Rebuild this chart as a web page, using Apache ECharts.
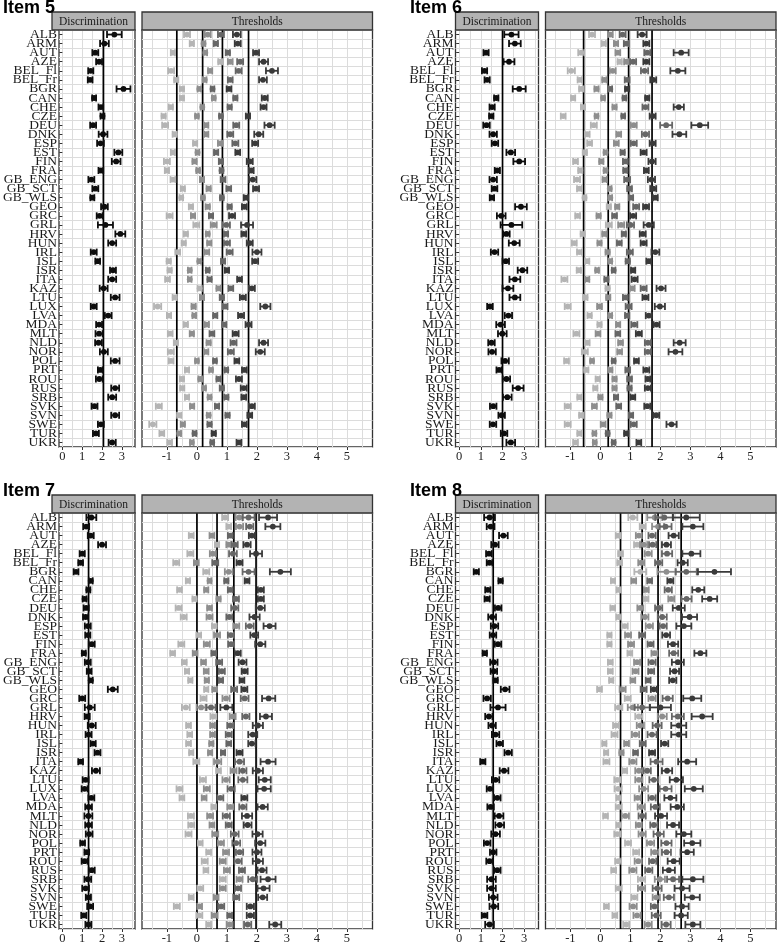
<!DOCTYPE html>
<html>
<head>
<meta charset="utf-8">
<script src="https://cdn.jsdelivr.net/npm/echarts@6/dist/echarts.min.js"></script>
<style>
  html, body { margin: 0; padding: 0; background: #fff; }
  #chart { width: 777px; height: 945px; }
</style>
</head>
<body>
<div id="chart"></div>
<script>
const countries = ['ALB','ARM','AUT','AZE','BEL_Fl','BEL_Fr','BGR','CAN','CHE','CZE','DEU','DNK','ESP','EST','FIN','FRA',
  'GB_ENG','GB_SCT','GB_WLS','GEO','GRC','GRL','HRV','HUN','IRL','ISL','ISR','ITA','KAZ','LTU','LUX','LVA','MDA','MLT',
  'NLD','NOR','POL','PRT','ROU','RUS','SRB','SVK','SVN','SWE','TUR','UKR'];

const discTicks = [0, 1, 2, 3];
const thrTicks = [-1, 0, 1, 2, 3, 4, 5];
const discMinor = [0, 0.5, 1, 1.5, 2, 2.5, 3, 3.5];
const thrMinor = [-1.5, -1, -0.5, 0, 0.5, 1, 1.5, 2, 2.5, 3, 3.5, 4, 4.5, 5, 5.5];

// ---- Item 5
const item5Disc = [2.62,2.12,1.66,1.85,1.43,1.40,3.08,1.60,1.94,2.02,1.55,2.05,1.92,2.82,2.71,1.94,1.46,1.66,1.51,2.12,1.88,2.17,2.92,
  2.51,1.58,1.78,2.55,2.51,2.08,2.66,1.58,2.31,1.85,1.85,1.82,2.09,2.66,1.91,1.86,2.66,2.51,1.62,2.66,1.94,1.69,2.51];
const item5DiscErr = [0.37,0.22,0.15,0.15,0.13,0.12,0.35,0.10,0.12,0.10,0.15,0.22,0.17,0.20,0.22,0.12,0.15,0.15,0.10,0.17,0.15,0.38,0.25,
  0.20,0.15,0.12,0.15,0.20,0.20,0.22,0.15,0.17,0.15,0.18,0.17,0.20,0.22,0.12,0.17,0.20,0.20,0.15,0.20,0.15,0.15,0.18];
const item5Thr = [[-0.33,0.36,0.80,1.33],[-0.17,0.22,0.63,1.36],[-0.80,0.28,1.03,1.97],[0.78,1.11,1.44,2.22],[-0.86,0.44,1.39,2.50],
  [-0.69,0.26,1.11,2.20],[-0.50,0.08,0.52,1.07],[-0.50,0.56,1.28,2.26],[-0.87,0.18,1.09,2.22],[-1.11,0.00,0.80,1.70],
  [-1.06,0.31,1.31,2.42],[-0.74,0.31,1.11,2.06],[-0.06,0.78,1.28,1.94],[-0.80,0.02,0.64,1.36],[-1.00,-0.08,0.80,1.76],
  [-1.00,0.04,0.82,1.81],[-0.80,0.17,0.87,1.86],[-0.47,0.39,1.06,1.97],[-0.52,0.20,0.83,1.63],[-0.20,0.36,1.09,1.58],
  [-0.91,-0.13,0.47,1.17],[-0.02,0.56,0.98,1.67],[-0.37,0.36,0.97,1.56],[-0.44,0.41,1.00,1.76],[-0.64,0.33,1.09,2.00],
  [-0.94,0.08,0.87,1.94],[-0.91,-0.24,0.36,1.00],[-0.98,-0.24,0.42,1.42],[0.09,0.72,1.13,1.83],[-0.74,0.17,0.83,1.53],
  [-1.31,-0.11,0.94,2.28],[-0.93,-0.09,0.61,1.47],[-0.37,0.33,0.91,1.72],[-0.89,-0.17,0.50,1.29],[-0.70,0.39,1.22,2.22],
  [-0.87,0.31,1.13,2.11],[-0.86,0.00,0.60,1.33],[-0.33,0.47,0.98,1.58],[-0.50,0.11,0.72,1.40],[-0.49,0.24,0.83,1.56],
  [-0.33,0.42,0.98,1.56],[-1.27,-0.16,0.67,1.83],[-0.59,0.39,1.02,1.76],[-1.47,-0.47,0.42,1.58],[-1.17,-0.59,-0.08,0.56],
  [-0.91,-0.17,0.51,1.40]];
const item5ThrErr = [[.10,.10,.10,.13],[.07,.06,.07,.10],[.07,.06,.07,.10],[.07,.08,.10,.15],[.10,.07,.10,.20],
  [.07,.06,.08,.13],[.07,.06,.06,.08],[.07,.06,.07,.10],[.07,.06,.07,.10],[.07,.06,.06,.07],
  [.10,.07,.10,.17],[.07,.07,.10,.15],[.07,.08,.10,.10],[.07,.06,.07,.08],[.10,.07,.07,.10],
  [.07,.06,.06,.08],[.08,.07,.08,.12],[.07,.07,.08,.10],[.06,.06,.06,.07],[.07,.07,.07,.08],
  [.10,.07,.07,.10],[.10,.10,.12,.20],[.07,.06,.07,.08],[.07,.07,.10,.10],[.08,.08,.10,.15],
  [.07,.06,.07,.10],[.07,.06,.06,.07],[.08,.06,.07,.08],[.07,.07,.08,.10],[.07,.07,.07,.10],
  [.12,.07,.08,.17],[.07,.06,.07,.10],[.07,.07,.07,.10],[.08,.07,.08,.10],[.07,.07,.10,.15],
  [.10,.07,.10,.15],[.08,.06,.06,.08],[.07,.06,.06,.08],[.07,.06,.07,.10],[.07,.06,.07,.10],
  [.07,.06,.07,.08],[.10,.07,.07,.10],[.07,.06,.07,.08],[.12,.07,.07,.08],[.08,.06,.06,.07],
  [.08,.06,.06,.08]];
const item5DiscMean = 2.07;
const item5ThrMean = [-0.67, 0.19, 0.85, 1.72];

// ---- Item 6
const item6Disc = [2.41,2.57,1.24,2.30,1.17,1.29,2.77,1.71,1.52,1.48,1.26,1.57,1.65,2.38,2.77,1.76,1.57,1.63,1.51,2.85,1.94,2.41,2.18,
  2.54,1.63,2.15,2.92,2.57,2.25,2.57,1.42,2.27,1.91,1.99,1.49,1.52,2.12,1.84,2.18,2.72,2.22,1.57,1.96,1.56,2.07,2.38];
const item6DiscErr = [0.33,0.27,0.12,0.25,0.12,0.12,0.30,0.10,0.12,0.10,0.15,0.17,0.15,0.20,0.27,0.12,0.17,0.13,0.10,0.27,0.20,0.50,0.15,
  0.25,0.17,0.15,0.22,0.25,0.25,0.25,0.13,0.17,0.20,0.20,0.15,0.17,0.17,0.12,0.17,0.25,0.20,0.15,0.15,0.15,0.15,0.20];
const item6Thr = [[-0.28,0.33,0.74,1.39],[0.11,0.52,0.86,1.53],[-0.64,0.58,1.56,2.69],[0.64,0.87,1.09,1.53],[-0.97,0.41,1.47,2.58],
  [-0.69,0.13,0.89,1.76],[-0.64,-0.13,0.33,0.89],[-0.91,0.09,0.80,1.56],[-0.58,0.47,1.50,2.61],[-1.24,-0.13,0.76,1.74],
  [-0.22,1.11,2.19,3.31],[-0.44,0.61,1.50,2.63],[-0.36,0.53,1.11,1.74],[-0.52,0.17,0.74,1.44],[-0.83,0.03,0.83,1.72],
  [-0.67,0.17,0.83,1.53],[-0.78,0.14,0.89,1.70],[-0.70,0.31,0.97,1.76],[-0.53,0.33,1.02,1.83],[0.28,0.56,1.19,1.52],
  [-0.76,-0.06,0.47,1.09],[0.28,0.69,1.00,1.61],[-0.59,0.13,0.78,1.41],[-0.87,-0.03,0.63,1.44],[-0.70,0.24,0.98,1.83],
  [-0.44,0.33,0.91,1.61],[-0.72,-0.11,0.44,1.09],[-1.20,-0.44,0.20,1.14],[0.24,1.06,1.44,2.02],[-0.50,0.26,0.83,1.50],
  [-1.09,-0.03,0.94,1.98],[-0.36,0.33,0.89,1.61],[-0.03,0.59,1.13,1.87],[-0.80,-0.08,0.58,1.28],[-0.44,0.67,1.58,2.64],
  [-0.52,0.64,1.58,2.50],[-1.13,-0.28,0.44,1.20],[-0.47,0.33,0.91,1.53],[-0.09,0.47,0.97,1.58],[-0.17,0.47,0.97,1.58],
  [-0.70,0.00,0.52,1.08],[-1.09,-0.20,0.61,1.56],[-0.64,0.30,1.02,1.86],[-1.09,0.09,1.11,2.37],[-0.70,-0.20,0.24,0.86],
  [-0.83,-0.19,0.44,1.28]];
const item6ThrErr = [[.10,.08,.10,.15],[.07,.07,.08,.10],[.10,.08,.10,.25],[.07,.08,.10,.10],[.12,.10,.12,.25],
  [.07,.07,.08,.10],[.07,.07,.06,.07],[.07,.06,.06,.07],[.07,.07,.10,.17],[.08,.06,.06,.10],
  [.10,.10,.20,.28],[.08,.08,.12,.23],[.08,.08,.10,.10],[.07,.06,.07,.10],[.08,.07,.08,.12],
  [.07,.06,.07,.08],[.10,.07,.10,.12],[.08,.06,.08,.10],[.06,.06,.07,.08],[.07,.07,.10,.10],
  [.08,.07,.08,.10],[.10,.10,.12,.17],[.07,.07,.07,.10],[.08,.07,.08,.10],[.08,.07,.10,.13],
  [.07,.06,.07,.08],[.07,.06,.06,.07],[.10,.07,.07,.10],[.07,.08,.10,.15],[.07,.07,.08,.10],
  [.10,.08,.10,.17],[.07,.06,.07,.10],[.07,.07,.10,.10],[.10,.08,.08,.10],[.08,.08,.10,.20],
  [.10,.08,.10,.23],[.08,.06,.06,.08],[.07,.07,.08,.10],[.07,.07,.08,.08],[.07,.07,.07,.10],
  [.07,.07,.07,.08],[.10,.08,.08,.10],[.07,.07,.07,.10],[.10,.08,.10,.17],[.07,.06,.06,.07],
  [.08,.06,.06,.08]];
const item6DiscMean = 2.0;
const item6ThrMean = [-0.56, 0.26, 0.94, 1.72];

// ---- Item 7
const item7Disc = [1.46,1.20,1.43,2.00,1.00,0.92,0.69,1.43,1.31,1.12,1.20,1.17,1.28,1.28,1.48,1.08,1.28,1.35,1.43,2.54,1.00,1.38,1.25,
  1.48,1.32,1.55,1.77,0.92,1.69,1.17,1.12,1.46,1.32,1.31,1.32,1.35,1.02,1.23,1.12,1.48,1.28,1.17,1.31,1.40,1.08,1.31];
const item7DiscErr = [0.25,0.15,0.15,0.20,0.13,0.12,0.12,0.10,0.10,0.10,0.13,0.13,0.15,0.13,0.15,0.10,0.15,0.12,0.10,0.25,0.15,0.25,0.13,
  0.20,0.15,0.13,0.15,0.12,0.20,0.15,0.15,0.15,0.17,0.20,0.17,0.17,0.12,0.12,0.15,0.15,0.17,0.17,0.13,0.15,0.13,0.15];
const item7Thr = [[0.94,1.41,1.72,2.37],[1.06,1.42,1.76,2.53],[-0.19,0.50,1.11,1.83],[0.67,1.06,1.26,1.67],[-0.22,0.53,1.20,1.97],
  [-0.69,-0.02,0.61,1.42],[0.31,1.06,1.72,2.78],[-0.30,0.42,0.98,1.67],[-0.58,0.31,1.11,2.13],[-0.08,0.72,1.30,2.13],
  [-0.61,0.42,1.26,2.11],[-0.44,0.42,1.08,1.92],[0.58,1.31,1.76,2.42],[0.06,0.67,1.13,1.91],[-0.52,0.33,1.14,2.11],
  [-0.81,-0.06,0.56,1.36],[-0.42,0.22,0.74,1.52],[-0.33,0.31,0.83,1.59],[-0.22,0.33,0.80,1.50],[0.31,0.59,1.24,1.58],
  [0.22,0.97,1.59,2.39],[-0.37,0.14,0.47,0.98],[0.55,1.19,1.63,2.30],[-0.28,0.52,1.11,2.03],[-0.24,0.52,1.06,1.86],
  [-0.28,0.48,1.06,1.83],[-0.19,0.44,0.87,1.42],[-0.02,0.69,1.42,2.37],[0.72,1.22,1.53,2.03],[0.20,0.97,1.53,2.26],
  [-0.58,0.33,1.14,2.24],[-0.50,0.24,0.78,1.58],[0.56,1.11,1.53,2.19],[-0.20,0.44,0.98,1.67],[-0.19,0.50,1.06,1.69],
  [-0.28,0.61,1.26,2.02],[0.11,0.80,1.31,2.11],[0.39,0.97,1.42,2.00],[0.26,0.86,1.37,2.03],[0.30,1.00,1.50,2.17],
  [0.86,1.42,1.86,2.37],[0.11,0.86,1.37,2.22],[-0.19,0.64,1.31,2.19],[-0.67,0.09,0.81,1.78],[0.08,0.59,1.09,1.78],
  [0.39,1.09,1.69,2.61]];
const item7ThrErr = [[.10,.12,.20,.30],[.08,.12,.12,.25],[.08,.08,.08,.10],[.07,.08,.10,.12],[.10,.10,.13,.20],
  [.10,.08,.10,.10],[.10,.13,.20,.35],[.07,.06,.07,.08],[.08,.07,.08,.10],[.07,.07,.10,.10],
  [.10,.08,.12,.15],[.10,.10,.10,.17],[.08,.10,.13,.20],[.08,.10,.10,.13],[.10,.10,.10,.17],
  [.08,.08,.08,.10],[.08,.08,.10,.13],[.07,.08,.10,.10],[.07,.07,.07,.08],[.07,.08,.10,.10],
  [.10,.12,.13,.22],[.13,.15,.15,.20],[.10,.10,.12,.20],[.08,.08,.10,.17],[.08,.08,.10,.15],
  [.08,.07,.08,.12],[.07,.07,.07,.10],[.10,.12,.15,.25],[.08,.10,.12,.17],[.10,.12,.15,.20],
  [.10,.10,.12,.22],[.08,.08,.10,.10],[.08,.10,.12,.17],[.10,.10,.12,.17],[.10,.08,.10,.13],
  [.10,.10,.13,.17],[.08,.10,.13,.17],[.08,.10,.12,.15],[.10,.10,.12,.17],[.08,.10,.10,.15],
  [.10,.10,.15,.25],[.10,.10,.10,.20],[.08,.08,.10,.15],[.10,.08,.10,.12],[.10,.10,.08,.12],
  [.08,.10,.12,.20]];
const item7DiscMean = 1.32;
const item7ThrMean = [0.0, 0.67, 1.23, 1.97];

// ---- Item 8
const item8Disc = [1.40,1.45,2.04,1.65,1.37,1.40,0.79,1.91,1.32,1.29,1.80,1.52,1.63,1.56,1.79,1.18,1.60,1.60,1.68,2.12,1.29,1.79,1.37,
  1.52,1.68,1.87,2.26,1.09,2.07,1.68,1.42,1.76,1.45,1.84,1.87,1.68,1.29,1.57,1.40,1.76,1.49,1.49,1.57,1.60,1.17,1.40];
const item8DiscErr = [0.25,0.18,0.20,0.17,0.13,0.13,0.12,0.10,0.12,0.12,0.15,0.18,0.17,0.15,0.15,0.10,0.17,0.15,0.10,0.20,0.17,0.35,0.17,
  0.17,0.17,0.15,0.17,0.12,0.20,0.17,0.15,0.15,0.15,0.20,0.20,0.20,0.15,0.15,0.15,0.15,0.20,0.20,0.20,0.20,0.13,0.20];
const item8Thr = [[1.08,1.81,2.13,2.86],[1.41,1.92,2.17,3.08],[0.59,1.28,1.72,2.44],[1.22,1.44,1.74,2.20],[0.67,1.59,2.22,3.03],
  [0.64,1.36,1.94,2.74],[1.33,2.20,2.86,3.80],[0.42,1.11,1.64,2.33],[0.61,1.53,2.26,3.26],[1.52,2.36,2.87,3.64],
  [0.41,1.33,1.94,2.61],[0.61,1.48,2.06,2.97],[0.81,1.63,2.09,2.78],[0.30,0.92,1.39,2.19],[0.30,1.02,1.67,2.42],
  [0.98,1.80,2.44,3.33],[0.33,1.22,1.72,2.58],[0.33,1.17,1.69,2.47],[0.36,1.08,1.59,2.41],[-0.03,0.74,1.44,1.78],
  [0.91,1.72,2.24,3.06],[0.61,1.08,1.39,2.00],[1.28,2.06,2.58,3.39],[0.52,1.33,1.89,2.61],[0.47,1.17,1.72,2.61],
  [0.13,0.87,1.41,2.14],[0.19,0.70,1.17,1.72],[0.20,1.08,1.87,2.89],[0.81,1.28,1.56,2.22],[0.56,1.28,1.78,2.53],
  [0.59,1.44,2.17,3.11],[0.61,1.24,1.72,2.33],[0.61,1.36,1.83,2.56],[0.17,0.83,1.39,2.02],[0.61,1.28,1.78,2.42],
  [0.56,1.39,1.94,2.78],[0.92,1.67,2.20,3.06],[1.19,1.81,2.20,2.89],[0.59,1.26,1.74,2.44],[0.44,1.08,1.61,2.28],
  [1.37,1.98,2.42,3.08],[0.61,1.37,1.89,2.72],[1.13,1.86,2.28,3.06],[0.20,1.09,1.80,2.72],[0.48,1.22,1.86,2.69],
  [0.86,1.59,2.19,3.08]];
const item8ThrErr = [[.15,.25,.30,.45],[.10,.20,.20,.35],[.08,.10,.12,.17],[.10,.12,.12,.15],[.08,.12,.17,.30],
  [.08,.10,.12,.17],[.20,.30,.35,.55],[.07,.08,.08,.10],[.07,.08,.12,.20],[.08,.10,.17,.25],
  [.08,.10,.12,.20],[.08,.12,.15,.25],[.10,.12,.12,.25],[.07,.10,.10,.13],[.07,.10,.10,.17],
  [.08,.10,.15,.20],[.08,.10,.12,.20],[.08,.10,.10,.15],[.07,.08,.08,.12],[.08,.10,.10,.10],
  [.10,.12,.17,.30],[.12,.17,.25,.35],[.12,.15,.20,.35],[.10,.12,.15,.25],[.10,.12,.15,.25],
  [.07,.08,.10,.12],[.07,.07,.08,.10],[.10,.12,.20,.30],[.08,.12,.12,.17],[.10,.12,.15,.22],
  [.12,.15,.20,.30],[.08,.10,.12,.20],[.10,.12,.15,.22],[.08,.12,.12,.20],[.08,.10,.12,.20],
  [.10,.12,.17,.25],[.10,.12,.17,.27],[.10,.12,.15,.22],[.10,.12,.12,.20],[.08,.12,.12,.20],
  [.12,.17,.20,.35],[.10,.12,.15,.25],[.10,.12,.17,.25],[.08,.12,.12,.22],[.08,.12,.15,.22],
  [.10,.12,.15,.25]];
const item8DiscMean = 1.57;
const item8ThrMean = [0.67, 1.39, 1.92, 2.69];

const thrColors = ['#b4b4b4', '#8e8e8e', '#666666', '#3a3a3a'];

const items = [
  { title: 'Item 5', disc: item5Disc, discErr: item5DiscErr, thr: item5Thr, thrErr: item5ThrErr, discMean: item5DiscMean, thrMean: item5ThrMean, left: 52, top: 30, titleX: 3, titleY: -1 },
  { title: 'Item 6', disc: item6Disc, discErr: item6DiscErr, thr: item6Thr, thrErr: item6ThrErr, discMean: item6DiscMean, thrMean: item6ThrMean, left: 455.5, top: 30, titleX: 410, titleY: -1 },
  { title: 'Item 7', disc: item7Disc, discErr: item7DiscErr, thr: item7Thr, thrErr: item7ThrErr, discMean: item7DiscMean, thrMean: item7ThrMean, left: 52, top: 513, titleX: 3, titleY: 482 },
  { title: 'Item 8', disc: item8Disc, discErr: item8DiscErr, thr: item8Thr, thrErr: item8ThrErr, discMean: item8DiscMean, thrMean: item8ThrMean, left: 455.5, top: 513, titleX: 410, titleY: 482 }
];

const DISC_W = 83, THR_GAP = 7, THR_W = 230.5, PANEL_H = 417, STRIP_H = 18;
const gridLine = { color: '#dcdcdc', width: 1 };
const serif = 'Liberation Serif';

// error bar + point, drawn from the axis scales
function renderPoint(params, api) {
  const v = api.value(0), c = api.value(1), e = api.value(2);
  const p = api.coord([v, c]);
  const lo = api.coord([v - e, c])[0];
  const hi = api.coord([v + e, c])[0];
  const col = api.visual('color');
  const h = 3.5;
  const st = { stroke: col, lineWidth: 1.8 };
  return {
    type: 'group',
    children: [
      { type: 'line', shape: { x1: lo, y1: p[1], x2: hi, y2: p[1] }, style: st },
      { type: 'line', shape: { x1: lo, y1: p[1] - h, x2: lo, y2: p[1] + h }, style: st },
      { type: 'line', shape: { x1: hi, y1: p[1] - h, x2: hi, y2: p[1] + h }, style: st },
      { type: 'circle', shape: { cx: p[0], cy: p[1], r: 2.9 }, style: { fill: col } }
    ]
  };
}

function renderMean(params, api) {
  const cs = params.coordSys;
  const x = api.coord([api.value(0), 0])[0];
  return { type: 'line', shape: { x1: x, y1: cs.y, x2: x, y2: cs.y + cs.height }, style: { stroke: '#000', lineWidth: 1.7 } };
}

const grid = [], xAxis = [], yAxis = [], series = [], graphic = [];

items.forEach((it, k) => {
  const panels = [
    { name: 'Discrimination', left: it.left, width: DISC_W, min: -0.17, max: 3.66, ticks: discTicks, minor: discMinor, isDisc: true },
    { name: 'Thresholds', left: it.left + DISC_W + THR_GAP, width: THR_W, min: -1.83, max: 5.85, ticks: thrTicks, minor: thrMinor, isDisc: false }
  ];
  panels.forEach((pn, j) => {
    const g = grid.length;
    grid.push({ left: pn.left, top: it.top, width: pn.width, height: PANEL_H, show: true, borderColor: '#333', borderWidth: 1.3, backgroundColor: 'transparent' });
    xAxis.push({
      gridIndex: g, type: 'value', min: pn.min, max: pn.max,
      axisLine: { show: false },
      axisTick: { show: true, length: 3, lineStyle: { color: '#333', width: 1 }, customValues: pn.ticks },
      axisLabel: { customValues: pn.ticks, fontFamily: serif, fontSize: 12.5, color: '#222', margin: 3 },
      splitLine: { show: true, lineStyle: gridLine }
    });
    xAxis.push({
      gridIndex: g, type: 'value', min: pn.min, max: pn.max, position: 'top',
      axisLine: { show: false },
      axisTick: { show: false, customValues: pn.minor },
      axisLabel: { show: false },
      splitLine: { show: true, lineStyle: gridLine }
    });
    yAxis.push({
      gridIndex: g, type: 'category', data: countries, inverse: true,
      axisLine: { show: false },
      axisTick: { show: pn.isDisc, length: 3, alignWithLabel: true, lineStyle: { color: '#333' } },
      axisLabel: { show: pn.isDisc, interval: 0, fontFamily: serif, fontSize: 13.5, color: '#1a1a1a', margin: 2 },
      splitLine: { show: true, interval: 0, lineStyle: gridLine }
    });
    const xi = xAxis.length - 2;
    const means = pn.isDisc ? [it.discMean] : it.thrMean;
    series.push({
      type: 'custom', xAxisIndex: xi, yAxisIndex: g, z: 3, silent: true,
      renderItem: renderMean, encode: { x: 0 },
      data: means.map(m => [m])
    });
    if (pn.isDisc) {
      series.push({
        type: 'custom', xAxisIndex: xi, yAxisIndex: g, z: 4, silent: true,
        itemStyle: { color: '#0d0d0d' },
        renderItem: renderPoint, encode: { x: 0, y: 1 },
        data: it.disc.map((v, i) => [v, i, it.discErr[i]])
      });
    } else {
      for (let t = 0; t < 4; t++) {
        series.push({
          type: 'custom', xAxisIndex: xi, yAxisIndex: g, z: 4 + t, silent: true,
          itemStyle: { color: thrColors[t] },
          renderItem: renderPoint, encode: { x: 0, y: 1 },
          data: it.thr.map((row, i) => [row[t], i, it.thrErr[i][t]])
        });
      }
    }
    // strip header
    graphic.push({
      type: 'rect', silent: true, z: 10,
      shape: { x: pn.left, y: it.top - STRIP_H, width: pn.width, height: STRIP_H },
      style: { fill: '#b3b3b3', stroke: '#333', lineWidth: 1.3 }
    });
    graphic.push({
      type: 'text', silent: true, z: 11,
      style: { text: pn.name, x: pn.left + pn.width / 2, y: it.top - STRIP_H / 2 + 0.5, align: 'center', verticalAlign: 'middle',
        font: '11.5px "Liberation Serif"', fill: '#1a1a1a' }
    });
  });
  graphic.push({
    type: 'text', silent: true, z: 12,
    style: { text: it.title, x: it.titleX, y: it.titleY, align: 'left', verticalAlign: 'top', font: 'bold 18px "Liberation Sans"', fill: '#000' }
  });
});

const chart = echarts.init(document.getElementById('chart'), null, { renderer: 'canvas' });
chart.setOption({
  animation: false,
  backgroundColor: '#fff',
  grid, xAxis, yAxis, series, graphic
});
</script>
</body>
</html>
